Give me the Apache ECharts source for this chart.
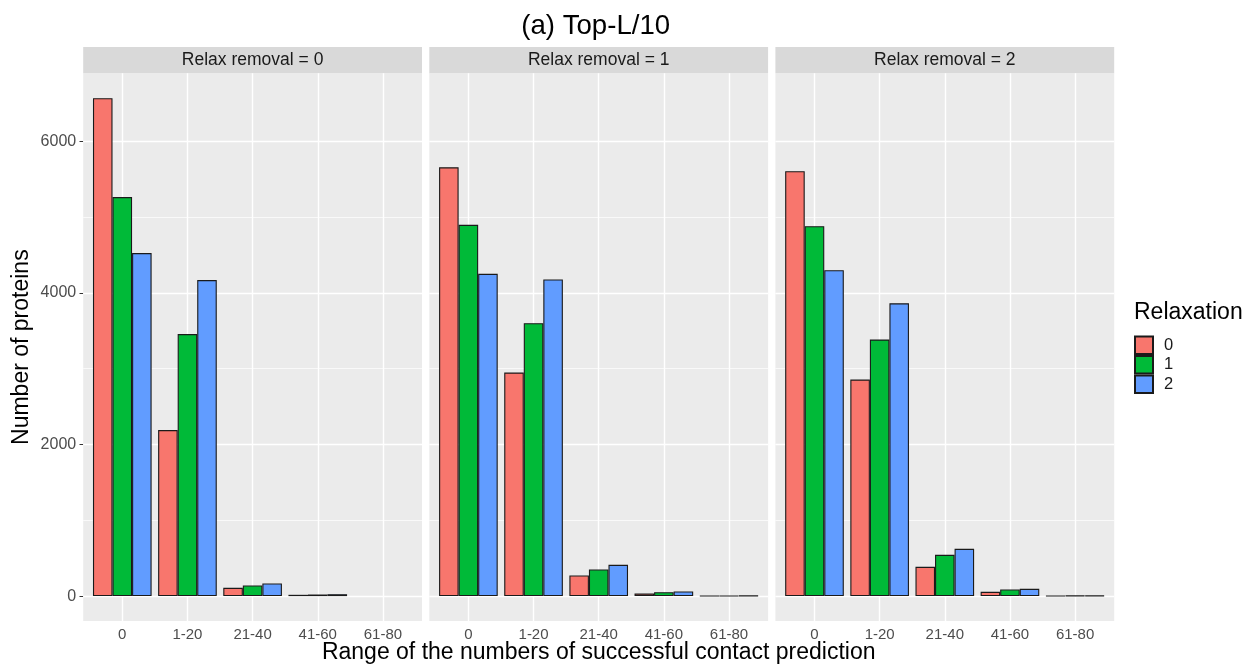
<!DOCTYPE html>
<html>
<head>
<meta charset="utf-8">
<script src="https://cdn.jsdelivr.net/npm/echarts@6/dist/echarts.min.js"></script>
<style>
  html, body { margin: 0; padding: 0; background: #ffffff; }
  #chart { width: 1244px; height: 666px; }
</style>
</head>
<body>
<div id="chart"></div>
<script>
// Range categories on the x axis
const categories = ['0', '1-20', '21-40', '41-60', '61-80'];
const relaxLevels = ['0', '1', '2'];
const panelTitles = ['Relax removal = 0', 'Relax removal = 1', 'Relax removal = 2'];

// Counts of proteins per range, one array per (relax removal, relaxation) pair
const rem0_relax0 = [6566, 2190, 109, 17, null];
const rem0_relax1 = [5262, 3456, 140, 21, null];
const rem0_relax2 = [4524, 4168, 166, 25, null];
const rem1_relax0 = [5655, 2948, 272, 34, 3];
const rem1_relax1 = [4896, 3598, 351, 51, 4];
const rem1_relax2 = [4250, 4175, 413, 61, 5];
const rem2_relax0 = [5603, 2856, 386, 57, 4];
const rem2_relax1 = [4877, 3383, 545, 87, 6];
const rem2_relax2 = [4297, 3861, 624, 96, 7];

// Axis breaks
const yTicks = [0, 2000, 4000, 6000];
const yMinorLines = [1000, 3000, 5000];

const panelData = [
  [rem0_relax0, rem0_relax1, rem0_relax2],
  [rem1_relax0, rem1_relax1, rem1_relax2],
  [rem2_relax0, rem2_relax1, rem2_relax2]
];
const relaxColors = ['#F8766D', '#00BA38', '#619CFF'];

// Continuous scale expanded by 5% on both sides of the data range
const allValues = panelData.flat(2).filter(v => v != null);
const dataMax = Math.max(...allValues);
const yMax = dataMax * 1.05;
const yMin = -dataMax * 0.05;

// Panel geometry
const FONT = '"Liberation Sans", Arial, sans-serif';
const panelLeft = [83.2, 429.3, 775.4];
const panelW = 338.8;
const panelTop = 73.3;
const panelH = 547.7;
const stripTop = 47;
const band = panelW / 5.2;        // discrete scale: 5 categories + 0.6 padding each side
const barW = band * 0.9 / 3;

const grids = [], xAxes = [], yAxes = [], series = [], graphics = [];

panelLeft.forEach((left, p) => {
  // background grid holding the gridlines
  grids.push({
    left: left, top: panelTop, width: panelW, height: panelH,
    show: true, backgroundColor: '#EBEBEB', borderWidth: 0, containLabel: false
  });
  // inner grid holding the bars
  grids.push({
    left: left + 0.1 * band, top: panelTop, width: 5 * band, height: panelH,
    show: false, containLabel: false
  });

  const gBg = 2 * p, gBar = 2 * p + 1;

  xAxes.push({
    gridIndex: gBg, type: 'value', min: 0.4, max: 5.6, show: false
  });
  xAxes.push({
    gridIndex: gBar, type: 'category', data: categories,
    axisLine: { show: false },
    axisTick: { show: true, alignWithLabel: true, length: 3.7, lineStyle: { color: '#333333', width: 1 } },
    axisLabel: { color: '#4D4D4D', fontSize: 15, fontFamily: FONT, margin: 6 },
    splitLine: { show: false }
  });

  const showY = p === 0;
  yAxes.push({
    gridIndex: gBg, type: 'value', min: yMin, max: yMax,
    axisLine: { show: false },
    splitLine: { show: false },
    axisTick: { show: showY, customValues: yTicks, length: 3.7, lineStyle: { color: '#333333', width: 1 } },
    axisLabel: {
      show: showY, customValues: yTicks, color: '#4D4D4D', fontSize: 16, fontFamily: FONT, margin: 7,
      formatter: v => String(v)
    }
  });
  yAxes.push({
    gridIndex: gBar, type: 'value', min: yMin, max: yMax, show: false,
    splitLine: { show: false }
  });

  // gridlines drawn as marker lines under the bars
  const lines = []
    .concat(yMinorLines.map(v => ({ yAxis: v, lineStyle: { width: 0.7 } })))
    .concat(yTicks.map(v => ({ yAxis: v, lineStyle: { width: 1.4 } })))
    .concat(categories.map((c, i) => ({ xAxis: i + 1, lineStyle: { width: 1.4 } })));
  series.push({
    type: 'line', xAxisIndex: gBg, yAxisIndex: gBg,
    data: [[1, 0]], symbol: 'none', lineStyle: { opacity: 0 }, silent: true,
    legendHoverLink: false, z: 1,
    markLine: {
      silent: true, symbol: ['none', 'none'], animation: false, z: 1,
      label: { show: false },
      lineStyle: { color: '#FFFFFF', type: 'solid' },
      data: lines
    }
  });

  panelData[p].forEach((vals, r) => {
    series.push({
      type: 'bar', name: relaxLevels[r],
      xAxisIndex: gBar, yAxisIndex: gBar,
      data: vals,
      barWidth: barW, barGap: '0%',
      z: 3,
      itemStyle: { color: relaxColors[r], borderColor: '#1A1A1A', borderWidth: 1.1 },
      emphasis: { disabled: true }
    });
  });

  // facet strip
  graphics.push({
    type: 'rect', silent: true,
    shape: { x: left, y: stripTop, width: panelW, height: panelTop - stripTop },
    style: { fill: '#D9D9D9' }
  });
  graphics.push({
    type: 'text', silent: true, x: left + panelW / 2, y: (stripTop + panelTop) / 2,
    style: { text: panelTitles[p], fill: '#1A1A1A', font: '17.5px ' + FONT, textAlign: 'center', textVerticalAlign: 'middle' }
  });
});

const plotCenterX = (panelLeft[0] + panelLeft[2] + panelW) / 2;

// plot title, axis titles and legend title
graphics.push({
  type: 'text', silent: true, x: plotCenterX - 3, y: 26,
  style: { text: '(a) Top-L/10', fill: '#000000', font: '27.6px ' + FONT, textAlign: 'center', textVerticalAlign: 'middle' }
});
graphics.push({
  type: 'text', silent: true, x: plotCenterX, y: 653,
  style: { text: 'Range of the numbers of successful contact prediction', fill: '#000000', font: '23px ' + FONT, textAlign: 'center', textVerticalAlign: 'middle' }
});
graphics.push({
  type: 'text', silent: true, x: 22, y: panelTop + panelH / 2, rotation: Math.PI / 2,
  style: { text: 'Number of proteins', fill: '#000000', font: '23px ' + FONT, textAlign: 'center', textVerticalAlign: 'middle' }
});
graphics.push({
  type: 'text', silent: true, x: 1134, y: 313,
  style: { text: 'Relaxation', fill: '#000000', font: '23px ' + FONT, textAlign: 'left', textVerticalAlign: 'middle' }
});

const chart = echarts.init(document.getElementById('chart'), null, { renderer: 'canvas' });
chart.setOption({
  animation: false,
  backgroundColor: '#FFFFFF',
  grid: grids,
  xAxis: xAxes,
  yAxis: yAxes,
  legend: {
    data: relaxLevels,
    orient: 'vertical',
    left: 1134, top: 335.5,
    itemWidth: 18, itemHeight: 17.5, itemGap: 0,
    icon: 'rect',
    selectedMode: false,
    padding: 0,
    textStyle: { color: '#1A1A1A', fontSize: 16.5, fontFamily: FONT, padding: [0, 0, 0, 6] }
  },
  graphic: graphics,
  series: series
});
</script>
</body>
</html>
